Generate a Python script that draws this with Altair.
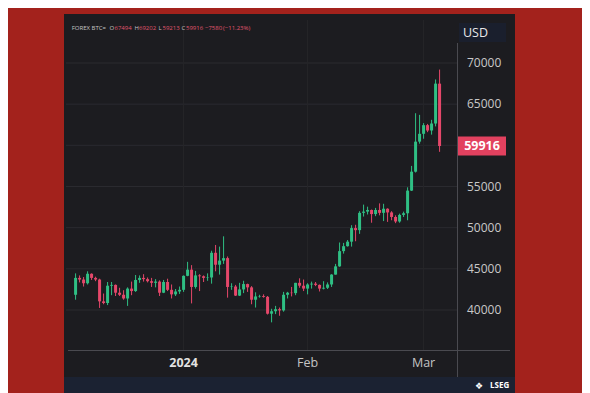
import altair as alt
import pandas as pd

# ---------------- data ----------------
dates = [d.strftime("%Y-%m-%d") for d in pd.date_range("2023-12-05", "2024-03-05", freq="D")]

opens = [41850, 43900, 43700, 43250, 44400, 43900, 43700, 41050, 40850, 42950,
         43050, 42100, 41850, 41400, 42600, 42300, 43650, 43900, 43750, 43500,
         43300, 43450, 42100, 43400, 42450, 41900, 42250,
         42450, 44150, 44900, 42800, 44200, 44100, 43900, 43950, 46950, 45500,
         46000, 46300, 42800, 42850, 41750, 42500, 43150, 42750, 41250, 41650,
         41700, 41600, 39550, 39850, 40100, 39950, 41850, 42100, 42050, 43300,
         42950,
         42600, 43100, 43200, 43050, 42600, 42700, 43100, 44300, 45300, 47150,
         47750, 48300, 49950, 49700, 51800, 51950, 52150, 51650, 52150, 51800,
         52300, 51850, 51300, 50750, 51550, 51750, 54500, 56800, 60450,
         61400, 62450, 61800, 62650, 67494]
highs = [44450, 44200, 44000, 44700, 44450, 44050, 43800, 42000, 43400, 43400,
         43100, 42700, 42400, 42750, 43450, 44250, 44200, 44350, 43950, 43900,
         43750, 43600, 43650, 43800, 43100, 42550, 42850,
         44200, 45850, 45450, 44750, 44350, 44200, 44450, 47200, 47900, 47700,
         48950, 46500, 43250, 43050, 43300, 43550, 43200, 42900, 42150, 41850,
         41900, 41700, 40150, 40500, 40300, 42200, 42200, 42800, 43300, 43850,
         43700,
         43250, 43450, 43400, 43100, 43500, 43350, 44350, 45600, 48200, 48150,
         48500, 50300, 50350, 52000, 52800, 52550, 52200, 52400, 52950, 52900,
         52350, 52000, 51500, 51700, 51950, 54900, 57500, 63900, 63700,
         62700, 62600, 63100, 68000, 69202]
lows = [41250, 43350, 42850, 43100, 43650, 43500, 40250, 40700, 40600, 41800,
        41700, 41700, 41250, 40500, 41800, 42200, 43300, 43450, 43350, 42800,
        42750, 41700, 42050, 42300, 41400, 41700, 41950,
        42200, 44100, 40800, 42600, 42300, 43400, 43550, 43200, 44700, 44300,
        45600, 41500, 42450, 41700, 41700, 42050, 42200, 40700, 40300, 41500,
        41500, 39450, 38500, 39500, 39300, 39800, 41400, 41650, 41800, 42700,
        42300,
        41900, 42600, 42900, 42250, 42500, 42550, 42800, 44300, 45250, 46850,
        47700, 47700, 48350, 49250, 51350, 51600, 50600, 51400, 51500, 50800,
        50700, 50900, 50550, 50600, 51300, 50900, 54450, 56700, 60200,
        60800, 61600, 61300, 62300, 59213]
closes = [43900, 43700, 43250, 44400, 43900, 43700, 41050, 40850, 42950, 43050,
          42100, 41850, 41400, 42600, 42300, 43650, 43900, 43750, 43500, 43300,
          43450, 42100, 43400, 42450, 41900, 42250, 42450,
          44150, 44900, 42800, 44200, 44100, 43900, 43950, 46950, 45500, 46000,
          46300, 42800, 42850, 41750, 42500, 43150, 42750, 41250, 41650, 41700,
          41600, 39550, 39850, 40100, 39950, 41850, 42100, 42050, 43300, 42950,
          42600,
          43100, 43200, 43050, 42600, 42700, 43100, 44300, 45300, 47150, 47750,
          48300, 49950, 49700, 51800, 51950, 52150, 51650, 52150, 51800, 52300,
          51850, 51300, 50750, 51550, 51750, 54500, 56800, 60450, 61400,
          62450, 61800, 62650, 67494, 59916]

y_label_values = [40000, 45000, 50000, 55000, 65000, 70000]
y_grid_values = [40000, 45000, 50000, 55000, 60000, 65000, 70000]
month_ticks = ["2024-01-01", "2024-02-01", "2024-03-01"]
month_labels = ["2024", "Feb", "Mar"]

header_parts = ["FOREX BTC=", "O", "67494", "H", "69202", "L", "59213", "C", "59916",
                "\u22127580", "(\u221211.23%)"]
header_is_value = [False, False, True, False, True, False, True, False, True, True, True]
last_close = closes[-1]

# ---------------- styles ----------------
BG = "#a3221c"
PANEL = "#1c1c20"
STRIP = "#1b2232"
GRID = "#2a2a2f"
SEP = "#4a4a50"
GREEN = "#2fbf84"
RED = "#e5476a"
FONT = "Open Sans"
W, H = 391, 330

df = pd.DataFrame({"date": dates, "open": opens, "high": highs, "low": lows, "close": closes})
df["dir"] = ["up" if c >= o else "down" for o, c in zip(opens, closes)]

xscale = alt.Scale(
    type="utc",
    nice=False,
    domain=[alt.DateTime(year=2023, month=12, date=3, hours=20, minutes=31, utc=True),
            alt.DateTime(year=2024, month=3, date=8, hours=2, minutes=31, utc=True)],
)
yscale = alt.Scale(domain=[35142, 75223], nice=False, zero=False)
color = alt.Color("dir:N", scale=alt.Scale(domain=["up", "down"], range=[GREEN, RED]), legend=None)

one = pd.DataFrame({"a": [0]})

panel = alt.Chart(one).mark_rect(color=PANEL).encode(
    x=alt.value(-2), x2=alt.value(449), y=alt.value(-6), y2=alt.value(357))
strip = alt.Chart(one).mark_rect(color=STRIP).encode(
    x=alt.value(-2), x2=alt.value(449), y=alt.value(357), y2=alt.value(380))

hgrid = alt.Chart(pd.DataFrame({"v": y_grid_values})).mark_rule(color=GRID, strokeWidth=1).encode(
    y=alt.Y("v:Q", scale=yscale, axis=None))
vgrid = alt.Chart(pd.DataFrame({"t": month_ticks})).mark_rule(color="#252529", strokeWidth=1).encode(
    x=alt.X("t:T", scale=xscale, axis=None))

wicks = alt.Chart(df).mark_rule(strokeWidth=1).encode(
    x=alt.X("date:T", scale=xscale, axis=None),
    y=alt.Y("low:Q", scale=yscale, axis=None),
    y2="high:Q",
    color=color,
)

bodies = alt.Chart(df).mark_bar(size=3).encode(
    x=alt.X("date:T", scale=xscale, axis=None),
    y=alt.Y("open:Q", scale=yscale, axis=None),
    y2="close:Q",
    color=color,
)

# axis labels, placed through the chart's scales
ylabels = alt.Chart(pd.DataFrame({"v": y_label_values})).mark_text(
    align="left", baseline="middle", font=FONT, fontSize=12, color="#c8c8c8"
).encode(
    x=alt.value(401),
    y=alt.Y("v:Q", scale=yscale, axis=None),
    text=alt.Text("v:Q", format="d"),
)
mdf = pd.DataFrame({"t": month_ticks, "label": month_labels})
xlabel_year = alt.Chart(mdf).transform_filter("datum.label == '2024'").mark_text(
    align="center", baseline="middle", font=FONT, fontSize=12.5, fontWeight="bold", color="#e2e2e2"
).encode(x=alt.X("t:T", scale=xscale, axis=None), y=alt.value(343), text="label:N")
xlabel_month = alt.Chart(mdf).transform_filter("datum.label != '2024'").mark_text(
    align="center", baseline="middle", font=FONT, fontSize=12.5, color="#c4c4c4"
).encode(x=alt.X("t:T", scale=xscale, axis=None), y=alt.value(343), text="label:N")

sep_v = alt.Chart(one).mark_rule(color=SEP, strokeWidth=1).encode(
    x=alt.value(391.5), y=alt.value(23), y2=alt.value(357))
sep_h = alt.Chart(one).mark_rule(color=SEP, strokeWidth=1).encode(
    x=alt.value(2), x2=alt.value(444), y=alt.value(330.5))

usd_box = alt.Chart(one).mark_rect(color="#1a1f2d").encode(
    x=alt.value(393), x2=alt.value(440), y=alt.value(3), y2=alt.value(22))
usd_text = alt.Chart(one).mark_text(
    text="USD", align="left", baseline="middle", font=FONT, fontSize=12.5, color="#e8e8e8"
).encode(x=alt.value(397), y=alt.value(12.5))

price_df = pd.DataFrame({"close": [last_close]})
price_box = alt.Chart(price_df).mark_rule(strokeWidth=19, color="#e2415f", strokeCap="butt").encode(
    x=alt.value(392), x2=alt.value(440), y=alt.Y("close:Q", scale=yscale, axis=None))
price_text = alt.Chart(price_df).mark_text(
    align="center", baseline="middle", font=FONT, fontSize=12.5, fontWeight="bold", color="#ffffff"
).encode(x=alt.value(416), y=alt.Y("close:Q", scale=yscale, axis=None),
         text=alt.Text("close:Q", format="d"))

header_x = [5.7, 43.5, 48.5, 68.5, 73, 92.5, 96.5, 115.5, 120, 139, 157]
header_layers = []
for txt, isval, hx in zip(header_parts, header_is_value, header_x):
    header_layers.append(
        alt.Chart(one).mark_text(
            text=txt, align="left", baseline="middle", font=FONT, fontSize=6,
            color="#e0566f" if isval else "#c4c4c4",
        ).encode(x=alt.value(hx), y=alt.value(8.3))
    )

logo = alt.Chart(one).mark_text(
    text="\u2756", align="left", baseline="middle", fontSize=9, color="#ffffff", font="DejaVu Sans"
).encode(x=alt.value(409), y=alt.value(366))
lseg = alt.Chart(one).mark_text(
    text="LSEG", align="left", baseline="middle", fontSize=8, fontWeight="bold", color="#ffffff", font=FONT
).encode(x=alt.value(424), y=alt.value(366))

chart = alt.layer(
    panel, strip, hgrid, vgrid, wicks, bodies, sep_v, sep_h,
    ylabels, xlabel_year, xlabel_month,
    usd_box, usd_text, price_box, price_text, *header_layers, logo, lseg,
).properties(
    width=W, height=H,
    padding={"left": 58, "top": 12, "right": 125, "bottom": 43},
    autosize=alt.AutoSizeParams(type="none"),
    background=BG,
).configure_view(strokeWidth=0)

chart.save("out.html", embed_options={"renderer": "svg", "actions": False})
